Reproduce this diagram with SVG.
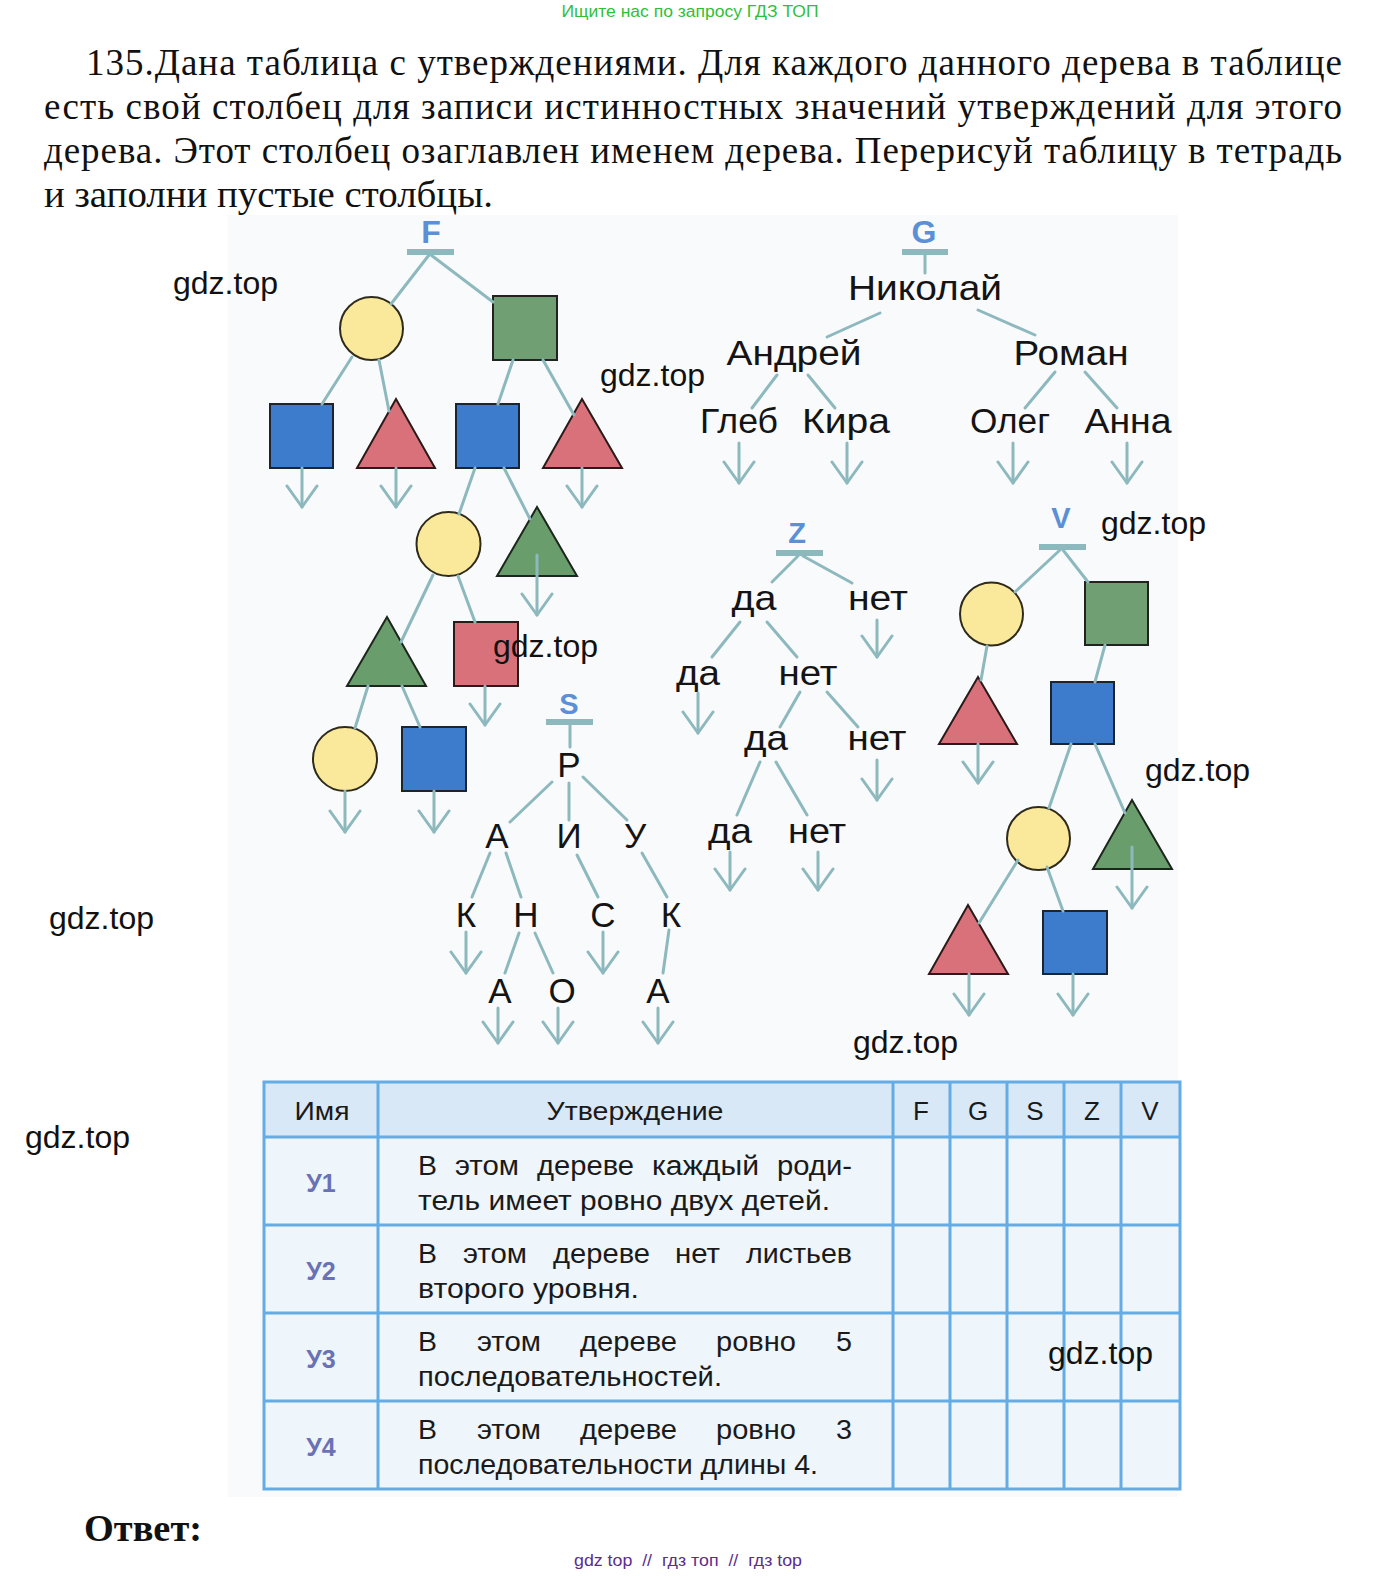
<svg xmlns="http://www.w3.org/2000/svg" width="1385" height="1576" viewBox="0 0 1385 1576">
<defs>
<style>
.para{font-family:"Liberation Serif","Times New Roman",serif;font-size:37px;fill:#111}
.nt{font-family:"Liberation Sans",Arial,sans-serif;font-size:35px;fill:#141414;text-anchor:middle}
.root{font-family:"Liberation Sans",Arial,sans-serif;font-weight:bold;fill:#5b8fd6;text-anchor:middle}
.wm{font-family:"Liberation Sans",Arial,sans-serif;font-size:32px;fill:#111}
.th{font-family:"Liberation Sans",Arial,sans-serif;font-size:26px;fill:#1a1a1a;text-anchor:middle}
.tb{font-family:"Liberation Sans",Arial,sans-serif;font-size:27px;fill:#1a1a1a}
.rl{font-family:"Liberation Sans",Arial,sans-serif;font-size:25px;font-weight:bold;fill:#6a72b5;text-anchor:middle}
.edge{stroke:#8db9be;stroke-width:3;fill:none;stroke-linecap:round}
.leaf{stroke:#8db9be;stroke-width:3;fill:none;stroke-linecap:round;marker-end:url(#ah)}
.bar{stroke:#8db9be;stroke-width:6;stroke-linecap:butt}
.yc{fill:#fbe99b;stroke:#2e2a1c;stroke-width:2}
.gs{fill:#6f9f73;stroke:#222;stroke-width:2}
.bs{fill:#3d7ccc;stroke:#1c2430;stroke-width:2}
.rt{fill:#d8717a;stroke:#2a1a1a;stroke-width:2}
.gt{fill:#6a9d6c;stroke:#1d261d;stroke-width:2}
.grid{stroke:#65abe4;stroke-width:3;fill:none}
</style>
<marker id="ah" viewBox="-24 -17 27 34" refX="0" refY="0" markerWidth="27" markerHeight="34" markerUnits="userSpaceOnUse" orient="auto">
<path d="M-21,-15 L0,0 L-21,15" fill="none" stroke="#8db9be" stroke-width="3" stroke-linecap="round" stroke-linejoin="round"/>
</marker>
</defs>
<rect x="0" y="0" width="1385" height="1576" fill="#ffffff"/>
<rect x="228" y="215" width="950" height="1282" fill="#f9fafc"/>

<g id="header">
<text x="690" y="17" font-family="Liberation Sans, Arial, sans-serif" font-size="16" fill="#2fbf3a" text-anchor="middle" textLength="257" lengthAdjust="spacingAndGlyphs">Ищите нас по запросу ГДЗ ТОП</text>
<text class="para" x="86" y="75" textLength="1256" lengthAdjust="spacing">135.Дана таблица с утверждениями. Для каждого данного дерева в таблице</text>
<text class="para" x="44" y="119" textLength="1298" lengthAdjust="spacing">есть свой столбец для записи истинностных значений утверждений для этого</text>
<text class="para" x="44" y="163" textLength="1298" lengthAdjust="spacing">дерева. Этот столбец озаглавлен именем дерева. Перерисуй таблицу в тетрадь</text>
<text class="para" x="44" y="207" textLength="449" lengthAdjust="spacingAndGlyphs">и заполни пустые столбцы.</text>
</g>

<!-- Tree F nodes -->
<g id="F-root"><text class="root" x="431" y="243" font-size="32">F</text><line class="bar" x1="407" y1="252" x2="454" y2="252"/></g>
<g id="F-n1"><circle class="yc" cx="371.5" cy="328.5" r="31.5"/></g>
<g id="F-n2"><rect class="gs" x="493" y="296" width="64" height="64"/></g>
<g id="F-n3"><rect class="bs" x="270" y="404" width="63" height="64"/></g>
<g id="F-n4"><polygon class="rt" points="396,399 357,468 435,468"/></g>
<g id="F-n5"><rect class="bs" x="456" y="404" width="63" height="64"/></g>
<g id="F-n6"><polygon class="rt" points="582,399 543,468 622,468"/></g>
<g id="F-n7"><circle class="yc" cx="448.5" cy="544" r="32"/></g>
<g id="F-n8"><polygon class="gt" points="537,507 497,576 577,576"/></g>
<g id="F-n9"><polygon class="gt" points="387,617 347,686 426,686"/></g>
<g id="F-n10"><rect class="rt" x="454" y="622" width="64" height="64"/></g>
<g id="F-n11"><circle class="yc" cx="345" cy="759" r="32"/></g>
<g id="F-n12"><rect class="bs" x="402" y="727" width="64" height="64"/></g>

<!-- Tree G nodes -->
<g id="G-root"><text class="root" x="924" y="243" font-size="32">G</text><line class="bar" x1="902" y1="252" x2="948" y2="252"/></g>
<g id="G-n1"><text class="nt" x="925" y="300" textLength="154" lengthAdjust="spacingAndGlyphs">Николай</text></g>
<g id="G-n2"><text class="nt" x="794" y="365" textLength="135" lengthAdjust="spacingAndGlyphs">Андрей</text></g>
<g id="G-n3"><text class="nt" x="1071" y="365" textLength="115" lengthAdjust="spacingAndGlyphs">Роман</text></g>
<g id="G-n4"><text class="nt" x="739" y="433" textLength="78" lengthAdjust="spacingAndGlyphs">Глеб</text></g>
<g id="G-n5"><text class="nt" x="846" y="433" textLength="88" lengthAdjust="spacingAndGlyphs">Кира</text></g>
<g id="G-n6"><text class="nt" x="1010" y="433" textLength="80" lengthAdjust="spacingAndGlyphs">Олег</text></g>
<g id="G-n7"><text class="nt" x="1128" y="433" textLength="87" lengthAdjust="spacingAndGlyphs">Анна</text></g>

<!-- Tree Z nodes -->
<g id="Z-root"><text class="root" x="797" y="543" font-size="29">Z</text><line class="bar" x1="776" y1="553" x2="823" y2="553"/></g>
<g id="Z-n1"><text class="nt" x="754" y="610" textLength="45" lengthAdjust="spacingAndGlyphs">да</text></g>
<g id="Z-n2"><text class="nt" x="878" y="610" textLength="60" lengthAdjust="spacingAndGlyphs">нет</text></g>
<g id="Z-n3"><text class="nt" x="698" y="685" textLength="44" lengthAdjust="spacingAndGlyphs">да</text></g>
<g id="Z-n4"><text class="nt" x="808" y="685" textLength="59" lengthAdjust="spacingAndGlyphs">нет</text></g>
<g id="Z-n5"><text class="nt" x="766" y="750" textLength="44" lengthAdjust="spacingAndGlyphs">да</text></g>
<g id="Z-n6"><text class="nt" x="877" y="750" textLength="59" lengthAdjust="spacingAndGlyphs">нет</text></g>
<g id="Z-n7"><text class="nt" x="730" y="843" textLength="44" lengthAdjust="spacingAndGlyphs">да</text></g>
<g id="Z-n8"><text class="nt" x="817" y="843" textLength="58" lengthAdjust="spacingAndGlyphs">нет</text></g>

<!-- Tree S nodes -->
<g id="S-root"><text class="root" x="569" y="714" font-size="29">S</text><line class="bar" x1="546" y1="722" x2="593" y2="722"/></g>
<g id="S-n1"><text class="nt" x="569" y="777">Р</text></g>
<g id="S-n2"><text class="nt" x="497" y="848">А</text></g>
<g id="S-n3"><text class="nt" x="569" y="848">И</text></g>
<g id="S-n4"><text class="nt" x="635" y="848">У</text></g>
<g id="S-n5"><text class="nt" x="466" y="927">К</text></g>
<g id="S-n6"><text class="nt" x="526" y="927">Н</text></g>
<g id="S-n7"><text class="nt" x="603" y="927">С</text></g>
<g id="S-n8"><text class="nt" x="671" y="927">К</text></g>
<g id="S-n9"><text class="nt" x="500" y="1003">А</text></g>
<g id="S-n10"><text class="nt" x="562" y="1003">О</text></g>
<g id="S-n11"><text class="nt" x="658" y="1003">А</text></g>

<!-- Tree V nodes -->
<g id="V-root"><text class="root" x="1061" y="528" font-size="29">V</text><line class="bar" x1="1039" y1="547" x2="1086" y2="547"/></g>
<g id="V-n1"><circle class="yc" cx="991.5" cy="614" r="31.5"/></g>
<g id="V-n2"><rect class="gs" x="1085" y="582" width="63" height="63"/></g>
<g id="V-n3"><polygon class="rt" points="978,677 939,744 1017,744"/></g>
<g id="V-n4"><rect class="bs" x="1051" y="682" width="63" height="62"/></g>
<g id="V-n5"><circle class="yc" cx="1038.5" cy="838.5" r="31.5"/></g>
<g id="V-n6"><polygon class="gt" points="1132,800 1093,869 1172,869"/></g>
<g id="V-n7"><polygon class="rt" points="968,905 929,974 1008,974"/></g>
<g id="V-n8"><rect class="bs" x="1043" y="911" width="64" height="63"/></g>

<g id="connectors">
<!-- F -->
<line class="edge" x1="429" y1="255" x2="391" y2="304"/>
<line class="edge" x1="431" y1="255" x2="493" y2="302"/>
<line class="edge" x1="352" y1="357" x2="322" y2="404"/>
<line class="edge" x1="379" y1="360" x2="389" y2="411"/>
<line class="edge" x1="513" y1="360" x2="498" y2="404"/>
<line class="edge" x1="543" y1="360" x2="574" y2="415"/>
<line class="leaf" x1="302" y1="468" x2="302" y2="507"/>
<line class="leaf" x1="396" y1="468" x2="396" y2="507"/>
<line class="leaf" x1="582" y1="468" x2="582" y2="507"/>
<line class="edge" x1="475" y1="468" x2="459" y2="514"/>
<line class="edge" x1="504" y1="468" x2="530" y2="519"/>
<line class="leaf" x1="537" y1="555" x2="537" y2="615"/>
<line class="edge" x1="433" y1="575" x2="401" y2="642"/>
<line class="edge" x1="458" y1="576" x2="475" y2="622"/>
<line class="leaf" x1="485" y1="686" x2="485" y2="725"/>
<line class="edge" x1="368" y1="686" x2="355" y2="728"/>
<line class="edge" x1="402" y1="686" x2="420" y2="727"/>
<line class="leaf" x1="345" y1="791" x2="345" y2="832"/>
<line class="leaf" x1="434" y1="791" x2="434" y2="832"/>
<!-- G -->
<line class="edge" x1="925" y1="255" x2="925" y2="273"/>
<line class="edge" x1="880" y1="313" x2="827" y2="337"/>
<line class="edge" x1="978" y1="310" x2="1035" y2="335"/>
<line class="edge" x1="777" y1="375" x2="752" y2="408"/>
<line class="edge" x1="808" y1="375" x2="835" y2="408"/>
<line class="edge" x1="1055" y1="372" x2="1025" y2="408"/>
<line class="edge" x1="1085" y1="372" x2="1117" y2="408"/>
<line class="leaf" x1="739" y1="443" x2="739" y2="483"/>
<line class="leaf" x1="847" y1="443" x2="847" y2="483"/>
<line class="leaf" x1="1013" y1="443" x2="1013" y2="483"/>
<line class="leaf" x1="1127" y1="443" x2="1127" y2="483"/>
<!-- Z -->
<line class="edge" x1="798" y1="556" x2="772" y2="582"/>
<line class="edge" x1="803" y1="556" x2="852" y2="583"/>
<line class="leaf" x1="877" y1="620" x2="877" y2="657"/>
<line class="edge" x1="740" y1="622" x2="712" y2="657"/>
<line class="edge" x1="767" y1="622" x2="797" y2="657"/>
<line class="leaf" x1="698" y1="693" x2="698" y2="733"/>
<line class="edge" x1="800" y1="692" x2="780" y2="727"/>
<line class="edge" x1="827" y1="692" x2="858" y2="727"/>
<line class="leaf" x1="877" y1="760" x2="877" y2="800"/>
<line class="edge" x1="760" y1="762" x2="737" y2="815"/>
<line class="edge" x1="776" y1="762" x2="807" y2="815"/>
<line class="leaf" x1="730" y1="852" x2="730" y2="890"/>
<line class="leaf" x1="818" y1="852" x2="818" y2="890"/>
<!-- S -->
<line class="edge" x1="570" y1="725" x2="570" y2="747"/>
<line class="edge" x1="552" y1="782" x2="510" y2="822"/>
<line class="edge" x1="569" y1="783" x2="569" y2="820"/>
<line class="edge" x1="583" y1="777" x2="627" y2="820"/>
<line class="edge" x1="490" y1="853" x2="472" y2="897"/>
<line class="edge" x1="506" y1="853" x2="521" y2="897"/>
<line class="edge" x1="577" y1="855" x2="598" y2="897"/>
<line class="edge" x1="642" y1="853" x2="667" y2="897"/>
<line class="leaf" x1="466" y1="932" x2="466" y2="973"/>
<line class="leaf" x1="603" y1="932" x2="603" y2="973"/>
<line class="edge" x1="519" y1="933" x2="505" y2="973"/>
<line class="edge" x1="535" y1="933" x2="553" y2="973"/>
<line class="edge" x1="669" y1="930" x2="663" y2="973"/>
<line class="leaf" x1="498" y1="1008" x2="498" y2="1043"/>
<line class="leaf" x1="558" y1="1008" x2="558" y2="1043"/>
<line class="leaf" x1="658" y1="1008" x2="658" y2="1043"/>
<!-- V -->
<line class="edge" x1="1060" y1="550" x2="1015" y2="592"/>
<line class="edge" x1="1063" y1="550" x2="1088" y2="582"/>
<line class="edge" x1="987" y1="646" x2="981" y2="680"/>
<line class="leaf" x1="978" y1="744" x2="978" y2="783"/>
<line class="edge" x1="1105" y1="645" x2="1095" y2="682"/>
<line class="edge" x1="1071" y1="744" x2="1049" y2="808"/>
<line class="edge" x1="1095" y1="744" x2="1125" y2="813"/>
<line class="leaf" x1="1132" y1="847" x2="1132" y2="908"/>
<line class="edge" x1="1018" y1="860" x2="979" y2="923"/>
<line class="edge" x1="1047" y1="867" x2="1063" y2="911"/>
<line class="leaf" x1="969" y1="974" x2="969" y2="1015"/>
<line class="leaf" x1="1073" y1="974" x2="1073" y2="1015"/>
</g>

<g id="table">
<rect x="264" y="1082" width="916" height="55" fill="#d8e8f6"/>
<rect x="264" y="1137" width="916" height="352" fill="#eef5fb"/>
<rect class="grid" x="264" y="1082" width="916" height="407"/>
<line class="grid" x1="264" y1="1137" x2="1180" y2="1137"/>
<line class="grid" x1="264" y1="1225" x2="1180" y2="1225"/>
<line class="grid" x1="264" y1="1313" x2="1180" y2="1313"/>
<line class="grid" x1="264" y1="1401" x2="1180" y2="1401"/>
<line class="grid" x1="378" y1="1082" x2="378" y2="1489"/>
<line class="grid" x1="893" y1="1082" x2="893" y2="1489"/>
<line class="grid" x1="950" y1="1082" x2="950" y2="1489"/>
<line class="grid" x1="1007" y1="1082" x2="1007" y2="1489"/>
<line class="grid" x1="1064" y1="1082" x2="1064" y2="1489"/>
<line class="grid" x1="1121" y1="1082" x2="1121" y2="1489"/>
<text class="th" x="322" y="1120" textLength="55" lengthAdjust="spacingAndGlyphs">Имя</text>
<text class="th" x="635" y="1120" textLength="177" lengthAdjust="spacingAndGlyphs">Утверждение</text>
<text class="th" x="921" y="1120">F</text>
<text class="th" x="978" y="1120">G</text>
<text class="th" x="1035" y="1120">S</text>
<text class="th" x="1092" y="1120">Z</text>
<text class="th" x="1150" y="1120">V</text>
<text class="rl" x="321" y="1192">У1</text>
<text class="rl" x="321" y="1280">У2</text>
<text class="rl" x="321" y="1368">У3</text>
<text class="rl" x="321" y="1456">У4</text>
<text class="tb" x="418" y="1175" textLength="19" lengthAdjust="spacingAndGlyphs">В</text>
<text class="tb" x="455" y="1175" textLength="64" lengthAdjust="spacingAndGlyphs">этом</text>
<text class="tb" x="537" y="1175" textLength="97" lengthAdjust="spacingAndGlyphs">дереве</text>
<text class="tb" x="652" y="1175" textLength="107" lengthAdjust="spacingAndGlyphs">каждый</text>
<text class="tb" x="777" y="1175" textLength="75" lengthAdjust="spacingAndGlyphs">роди-</text>
<text class="tb" x="418" y="1210" textLength="412" lengthAdjust="spacingAndGlyphs">тель имеет ровно двух детей.</text>
<text class="tb" x="418" y="1263" textLength="19" lengthAdjust="spacingAndGlyphs">В</text>
<text class="tb" x="463" y="1263" textLength="64" lengthAdjust="spacingAndGlyphs">этом</text>
<text class="tb" x="553" y="1263" textLength="97" lengthAdjust="spacingAndGlyphs">дереве</text>
<text class="tb" x="675" y="1263" textLength="45" lengthAdjust="spacingAndGlyphs">нет</text>
<text class="tb" x="746" y="1263" textLength="106" lengthAdjust="spacingAndGlyphs">листьев</text>
<text class="tb" x="418" y="1298" textLength="221" lengthAdjust="spacingAndGlyphs">второго уровня.</text>
<text class="tb" x="418" y="1351" textLength="19" lengthAdjust="spacingAndGlyphs">В</text>
<text class="tb" x="477" y="1351" textLength="64" lengthAdjust="spacingAndGlyphs">этом</text>
<text class="tb" x="580" y="1351" textLength="97" lengthAdjust="spacingAndGlyphs">дереве</text>
<text class="tb" x="716" y="1351" textLength="80" lengthAdjust="spacingAndGlyphs">ровно</text>
<text class="tb" x="836" y="1351" textLength="16" lengthAdjust="spacingAndGlyphs">5</text>
<text class="tb" x="418" y="1386" textLength="304" lengthAdjust="spacingAndGlyphs">последовательностей.</text>
<text class="tb" x="418" y="1439" textLength="19" lengthAdjust="spacingAndGlyphs">В</text>
<text class="tb" x="477" y="1439" textLength="64" lengthAdjust="spacingAndGlyphs">этом</text>
<text class="tb" x="580" y="1439" textLength="97" lengthAdjust="spacingAndGlyphs">дереве</text>
<text class="tb" x="716" y="1439" textLength="80" lengthAdjust="spacingAndGlyphs">ровно</text>
<text class="tb" x="836" y="1439" textLength="16" lengthAdjust="spacingAndGlyphs">3</text>
<text class="tb" x="418" y="1474" textLength="400" lengthAdjust="spacingAndGlyphs">последовательности длины 4.</text>
</g>

<g id="footer">
<text x="84" y="1541" font-family="Liberation Serif, Times New Roman, serif" font-size="37" font-weight="bold" fill="#111" textLength="118" lengthAdjust="spacingAndGlyphs">Ответ:</text>
<text x="688" y="1566" font-family="Liberation Sans, Arial, sans-serif" font-size="17" fill="#5a2d91" text-anchor="middle" textLength="228" lengthAdjust="spacingAndGlyphs" style="white-space:pre">gdz top  //  гдз топ  //  гдз top</text>
</g>

<g id="watermarks">
<text class="wm" x="173" y="294">gdz.top</text>
<text class="wm" x="600" y="386">gdz.top</text>
<text class="wm" x="1101" y="534">gdz.top</text>
<text class="wm" x="493" y="657">gdz.top</text>
<text class="wm" x="1145" y="781">gdz.top</text>
<text class="wm" x="49" y="929">gdz.top</text>
<text class="wm" x="853" y="1053">gdz.top</text>
<text class="wm" x="25" y="1148">gdz.top</text>
<text class="wm" x="1048" y="1364">gdz.top</text>
</g>
</svg>
